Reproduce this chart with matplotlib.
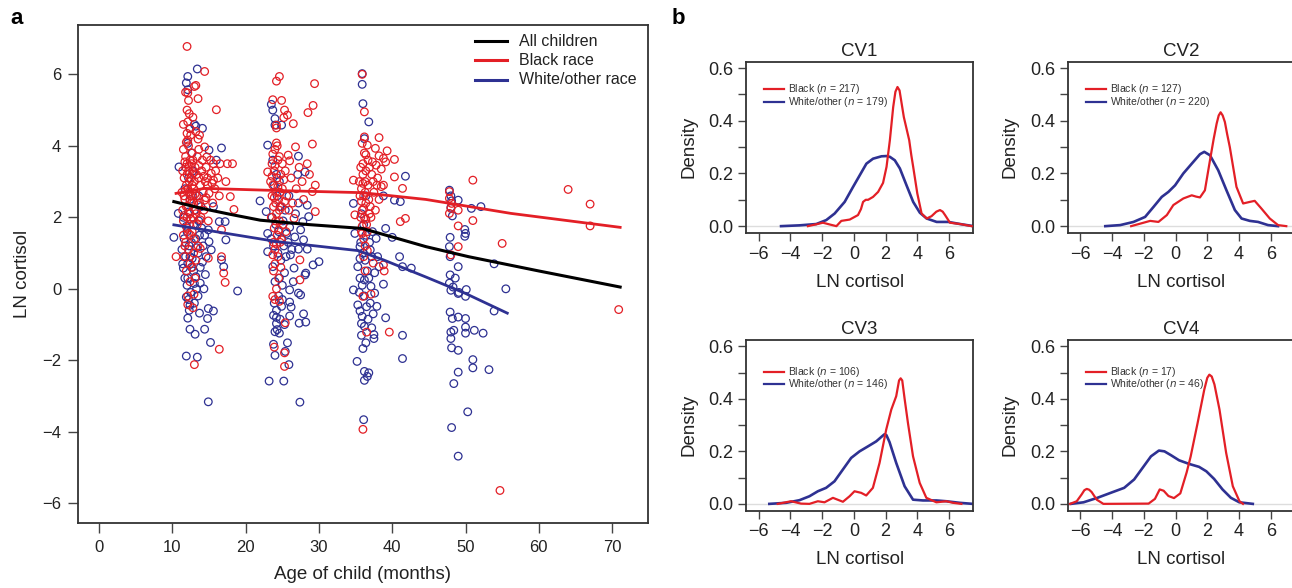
import matplotlib
matplotlib.use("Agg")
import matplotlib.pyplot as plt
from matplotlib.lines import Line2D
import numpy as np

plt.rcParams['font.family'] = ['Liberation Sans', 'DejaVu Sans']

RED = '#e31f26'
BLUE = '#2e3192'

# ---------------- Panel a data (age in months, LN cortisol) ----------------
black_w1 = [(12.0,6.78),(14.4,6.08),(11.8,5.5),(12.1,5.48),(13.0,5.66),(13.2,5.69),(12.2,5.27),(13.5,5.32),
            (16.0,5.01),(12.0,5.0),(12.3,4.9),(12.1,4.67),(12.4,4.48),(13.5,4.19),(12.1,4.16),(14.4,3.97),
            (14.7,3.69),(15.6,3.5),(17.5,3.5),(18.2,3.5),(15.3,3.23),(15.6,3.04),(15.0,2.67),(17.9,2.58),
            (18.4,2.22),(14.4,2.48),(13.2,2.1),(13.8,1.93),(16.7,1.65),(10.5,0.9),(13.8,1.13),(14.9,0.86),
            (16.7,0.9),(17.0,0.44),(17.2,0.18),(12.1,-0.44),(12.8,-0.53),(12.95,-0.15),(16.4,-1.69),(13.0,-2.12),
            (11.5,3.9),(11.8,3.7),(12.0,3.5),(12.2,3.3),(11.6,3.1),(11.9,2.9),(12.3,2.7),(11.7,2.5),(12.1,2.3),
            (12.4,2.1),(11.5,1.9),(12.0,1.7),(12.5,1.5),(11.8,1.3),(12.2,1.1),(11.6,0.9),(12.4,0.7),(11.9,0.5),
            (12.6,3.8),(12.8,3.6),(13.1,3.4),(12.7,3.2),(13.0,3.0),(12.9,2.8),(13.3,2.6),(12.6,2.4),(13.2,2.2),
            (12.8,2.0),(13.4,1.8),(12.7,1.6),(13.0,1.4),(13.5,1.2),(12.9,1.0),(13.2,0.8),(11.4,3.3),(11.3,2.7),
            (11.4,2.2),(11.5,1.5),(13.6,3.1),(13.8,2.9),(13.7,2.4),(14.0,3.3),(14.2,2.7),(14.5,3.0),(14.1,3.6),
            (14.8,2.9),(13.9,2.0),(14.3,2.2),(12.2,4.0),(12.5,4.3),(11.9,4.1),(12.3,3.0),(12.5,2.6),(12.0,2.0),
            (11.7,1.2),(12.7,0.6),(13.1,0.3),(12.4,0.2),(12.1,-0.2),(11.8,3.4),(12.6,3.5),(13.4,3.7),(12.3,1.8),
            (12.9,2.4),(15.2,3.6),(15.8,2.8),(14.6,3.4),(16.2,3.1),(15.5,2.4),(14.9,1.9),(13.6,3.9),(12.4,3.6),
            (11.6,2.6),(12.1,2.8),(12.7,2.9),(13.3,3.2),(12.0,3.2),(12.5,3.1),(11.9,2.3),(12.8,2.6),
            (11.7,3.55),(12.3,3.45),(12.9,3.25),(11.8,2.75),(12.4,2.45),(13.1,2.65),(11.6,2.05),(12.2,1.55),
            (13.6,3.45),(14.3,3.15),(14.6,2.55),(15.4,2.95),(16.5,3.5),(15.9,3.3),(13.2,4.4),(12.0,4.35),
            (11.5,4.6),(12.8,4.8),(13.7,4.3),(14.8,3.1),(16.4,2.6),(17.3,3.0),(13.5,2.35),(12.5,1.95)]

white_w1 = [(13.4,6.15),(12.1,5.94),(11.9,5.76),(12.1,5.57),(13.0,4.6),(13.2,4.55),(14.1,4.49),(12.4,4.48),
            (12.1,4.07),(16.7,3.94),(15.0,3.88),(16.0,3.6),(10.9,3.41),(10.8,2.11),(10.2,1.44),(15.6,2.3),
            (16.4,1.88),(17.2,1.88),(17.3,1.37),(15.0,1.32),(14.4,1.5),(15.3,1.09),(16.7,0.81),(17.0,0.62),
            (18.9,-0.06),(11.5,0.58),(12.1,0.72),(13.2,0.34),(13.8,0.16),(11.9,-0.23),(12.4,-0.46),(12.1,-0.82),
            (12.4,-1.13),(13.1,-1.27),(14.4,-1.13),(13.7,-0.68),(14.9,-0.55),(15.6,-0.62),(14.8,-0.83),(15.2,-1.5),
            (11.9,-1.88),(13.4,-1.91),(14.9,-3.16),(11.5,2.0),(12.0,1.6),(12.3,1.2),(11.8,0.9),(12.6,0.6),
            (12.9,1.8),(13.2,1.4),(13.5,1.0),(12.4,2.5),(13.0,2.2),(11.7,2.8),(12.2,3.1),(12.8,3.3),(13.6,2.6),
            (14.0,1.7),(14.2,1.2),(13.8,0.6),(12.1,0.3),(12.5,-0.1),(13.3,0.0),(14.5,0.4),(13.0,-0.4),(12.7,3.8),
            (12.4,0.9),(13.7,1.5),(11.6,1.4),(11.4,0.7),(12.2,-0.3),(12.0,0.1),(12.9,0.5),(13.5,-0.2),(14.6,0.9),
            (11.3,1.1),(12.6,1.3),(13.9,2.3),(14.3,0.0),(12.3,-0.6),(11.7,0.3),
            (13.3,1.15),(12.7,0.85),(14.1,0.75),(11.9,1.75),(13.6,1.9),(12.2,2.15),(14.9,1.65),(13.0,0.15)]

black_w2 = [(24.6,5.94),(24.2,5.81),(29.4,5.74),(23.7,5.29),(24.9,5.27),(25.3,5.0),(25.2,4.79),(26.5,4.62),
            (28.5,4.93),(29.2,5.13),(24.2,4.5),(24.2,4.58),(25.7,4.86),(24.2,4.08),(29.1,4.05),(26.8,3.97),
            (25.8,3.74),(23.7,3.77),(24.6,3.7),(23.0,3.27),(26.0,3.58),(28.4,3.5),(29.5,2.9),(29.1,2.72),
            (27.7,3.0),(29.5,2.16),(26.6,1.97),(25.3,2.44),(27.4,0.81),(27.4,0.25),(24.9,1.37),(24.0,0.7),
            (23.7,-0.21),(24.0,-0.30),(24.6,-0.35),(25.4,-0.95),(23.9,-1.63),(25.3,-1.79),(25.3,-2.17),
            (23.6,3.5),(23.9,3.3),(24.3,3.1),(23.7,2.9),(24.1,2.7),(24.5,2.5),(23.8,2.3),(24.2,2.1),(24.6,1.9),
            (23.9,1.7),(24.3,1.5),(24.7,1.3),(24.0,1.1),(24.4,0.9),(23.8,0.5),(24.8,3.2),(25.0,2.8),(24.9,2.3),
            (25.1,1.8),(24.4,3.6),(23.6,2.6),(23.5,2.0),(24.1,2.4),(24.7,2.7),(25.4,3.3),(25.6,2.6),(26.2,3.1),
            (26.9,2.8),(27.3,3.4),(25.9,2.2),(24.5,0.3),(24.2,0.0),(23.8,1.3),(24.3,4.0),(24.0,3.9),(25.0,3.5),
            (23.4,3.0),(24.6,2.2),(24.1,1.9),(25.5,1.6),(26.4,2.4),(27.9,2.5),(28.7,3.2),(24.8,0.6),
            (23.6,3.15),(24.4,2.85),(23.9,2.55),(24.5,1.65),(24.2,1.25),(23.7,0.95),(24.0,3.45),(25.2,3.05)]

white_w2 = [(23.5,5.16),(23.7,5.0),(24.0,4.76),(24.0,4.58),(24.9,4.58),(23.0,4.02),(27.2,3.71),(28.1,3.27),
            (27.1,3.2),(21.96,2.46),(22.8,2.16),(28.4,2.34),(27.2,2.4),(26.8,2.1),(27.8,1.88),(28.6,2.02),
            (26.0,1.72),(27.5,1.65),(27.9,1.37),(28.4,1.11),(27.2,1.11),(23.0,1.55),(23.0,1.04),(26.6,0.58),
            (29.2,0.67),(30.0,0.76),(28.1,0.39),(28.2,0.44),(23.7,0.62),(24.6,0.3),(26.0,-0.03),(27.2,-0.12),
            (27.5,-0.17),(23.8,-0.74),(24.2,-0.97),(24.3,-1.14),(24.6,-1.24),(24.2,-0.8),(24.9,-0.49),(26.0,-0.37),
            (26.2,-0.51),(26.0,-0.76),(27.3,-0.96),(27.9,-0.70),(28.2,-0.93),(23.8,-1.55),(24.0,-1.86),(25.7,-1.51),
            (25.4,-1.75),(25.9,-2.12),(23.2,-2.58),(25.2,-2.58),(27.4,-3.17),(23.9,2.9),(24.3,2.6),(24.7,2.3),
            (23.6,2.0),(24.1,1.8),(24.5,1.6),(24.9,1.4),(23.8,1.2),(24.4,1.0),(24.8,0.8),(25.2,1.2),(25.5,0.9),
            (25.8,1.3),(24.0,0.2),(24.5,-0.2),(23.9,-0.4),(25.0,0.1),(25.4,2.2),(25.9,2.6),(26.3,1.1),(24.2,3.2),
            (23.7,3.6),(24.6,3.0),(25.1,1.9),(23.5,1.4),(24.2,-0.6),(25.3,-1.0),(26.5,0.2),(25.0,-0.3),
            (25.6,1.55),(26.1,0.95),(25.3,0.45),(26.7,1.45),(24.0,-1.2),(24.7,-0.85)]

black_w3 = [(35.9,6.0),(36.2,4.95),(36.2,4.25),(35.9,4.07),(38.2,4.23),(36.6,4.02),(37.7,3.93),(39.3,3.86),
            (38.2,3.72),(38.8,3.65),(36.4,3.75),(36.7,3.6),(40.3,3.62),(37.8,3.46),(39.1,3.55),(40.3,3.13),
            (41.4,2.81),(38.5,2.86),(38.8,2.9),(34.7,3.04),(34.9,2.07),(35.9,1.55),(37.1,2.0),(38.2,2.5),
            (41.1,1.88),(41.8,1.97),(36.6,1.07),(37.4,0.72),(38.8,0.67),(38.9,0.5),(36.0,-0.21),(37.1,-0.15),
            (36.5,-1.21),(39.6,-1.21),(36.0,-3.93),(35.7,3.4),(36.0,3.2),(36.3,3.0),(35.8,2.8),(36.1,2.6),
            (36.4,2.4),(35.9,2.2),(36.2,2.0),(36.5,1.8),(35.8,1.6),(36.1,1.4),(36.3,1.2),(36.0,3.5),(36.4,3.3),
            (36.7,2.9),(36.8,2.5),(36.9,2.1),(37.2,3.2),(37.5,2.7),(37.0,2.3),(35.6,2.6),(35.5,3.0),(36.2,3.8),
            (36.9,3.4),(37.4,3.0),(38.0,3.1),(37.7,2.2),(36.6,1.6),(35.7,2.0),(36.1,0.9),(36.3,0.5),(37.9,2.9),
            (36.0,2.95),(36.3,2.7),(35.8,2.45),(36.1,2.25),(36.4,1.95),(35.9,1.75),(37.3,3.55),(38.5,3.35)]

white_w3 = [(35.9,6.02),(35.9,5.72),(36.0,5.18),(36.8,4.67),(36.2,4.2),(41.8,3.15),(40.3,2.48),(41.1,2.44),
            (38.8,2.6),(34.7,2.39),(34.9,1.55),(37.8,1.41),(39.1,1.69),(40.0,1.44),(35.6,1.18),(37.0,1.09),
            (38.0,0.9),(38.2,0.62),(41.0,0.9),(41.4,0.62),(42.6,0.58),(35.3,0.62),(35.6,0.3),(36.2,0.25),
            (37.1,0.07),(37.6,-0.12),(38.8,0.13),(34.7,-0.03),(35.3,-0.45),(35.6,-0.62),(35.9,-0.77),(35.8,-0.97),
            (36.2,-1.05),(37.0,-0.4),(37.4,-0.70),(37.2,-1.09),(37.5,-1.28),(37.5,-1.39),(37.9,-0.49),(39.1,-0.81),
            (41.4,-1.30),(41.4,-1.95),(35.2,-2.03),(36.2,-2.31),(36.8,-2.35),(36.6,-2.45),(36.2,-2.56),(36.4,-1.51),
            (36.0,-1.67),(36.1,-3.66),(35.8,2.1),(36.1,1.8),(36.4,1.5),(35.7,1.3),(36.0,1.0),(36.3,0.8),(36.6,0.5),
            (35.9,0.1),(36.2,-0.2),(36.5,-0.5),(36.8,0.3),(37.2,0.9),(36.9,1.3),(35.5,-0.1),(36.4,2.6),(35.8,-1.3),
            (37.6,0.45),(36.7,-0.85),(35.6,0.85),(37.3,1.6)]

black_w4 = [(51.0,3.04),(47.8,2.72),(47.8,2.53),(48.1,2.39),(48.0,2.25),(47.8,2.11),(49.0,2.2),(49.0,1.76),
            (51.0,1.91),(49.0,1.18),(48.0,0.95),(55.0,1.27),(64.0,2.78),(67.0,2.37),(67.0,1.76),(54.7,-5.64),
            (70.9,-0.58)]

white_w4 = [(47.8,2.76),(48.0,2.6),(48.1,2.46),(48.0,2.28),(48.2,2.04),(49.0,2.48),(50.8,2.25),(52.1,2.30),
            (49.9,1.66),(50.0,1.55),(49.9,1.47),(47.9,1.44),(47.8,1.18),(47.9,0.9),(49.0,0.62),(47.9,0.39),
            (48.6,0.30),(47.8,0.16),(48.3,0.05),(53.9,0.70),(55.5,0.0),(49.1,-0.1),(48.0,-0.04),(49.0,-0.13),
            (50.0,-0.21),(50.1,-0.02),(47.9,-0.65),(48.2,-0.83),(49.0,-0.79),(50.0,-0.83),(50.0,-1.07),(50.0,-1.24),
            (48.0,-1.21),(48.4,-1.16),(48.0,-1.39),(51.2,-1.16),(52.4,-1.24),(48.1,-1.65),(49.0,-1.72),(51.0,-1.98),
            (51.0,-2.21),(53.2,-2.26),(49.0,-2.33),(48.4,-2.65),(50.3,-3.44),(48.1,-3.88),(49.0,-4.68),(53.9,-0.62)]

# smoothed fits
fit_all_age = [10.2, 14.0, 18.0, 22.0, 28.4, 35.9, 40.0, 44.6, 50.4, 60.0, 71.1]
fit_all_val = [2.44, 2.25, 2.08, 1.92, 1.80, 1.69, 1.45, 1.18, 0.90, 0.50, 0.05]
fit_black_age = [10.5, 14.4, 24.3, 35.9, 44.6, 56.2, 71.1]
fit_black_val = [2.67, 2.81, 2.75, 2.69, 2.50, 2.11, 1.72]
fit_white_age = [10.2, 14.4, 24.3, 35.3, 38.8, 44.6, 49.9, 55.7]
fit_white_val = [1.79, 1.65, 1.32, 1.07, 0.81, 0.33, -0.12, -0.68]

# ---------------- Panel b data (density curves) ----------------
cv_titles = ['CV1', 'CV2', 'CV3', 'CV4']
n_black = [217, 127, 106, 17]
n_white = [179, 220, 146, 46]

cv1_black_x = [-2.9,-2.3,-1.95,-1.5,-1.1,-0.79,-0.26,0.26,0.45,0.58,0.75,0.9,1.21,1.53,1.84,2.06,2.27,2.48,2.62,2.75,2.88,3.0,3.15,3.32,3.49,3.62,3.74,4.0,4.27,4.59,4.9,5.2,5.43,5.6,5.75,6.06,6.7,7.43]
cv1_black_y = [0.0,0.008,0.013,0.006,0.0,0.02,0.025,0.042,0.065,0.092,0.1,0.10,0.111,0.13,0.164,0.225,0.326,0.452,0.51,0.528,0.515,0.47,0.414,0.37,0.326,0.27,0.225,0.124,0.048,0.029,0.038,0.055,0.061,0.055,0.042,0.013,0.008,0.0]
cv1_white_x = [-4.59,-3.43,-2.37,-1.74,-1.21,-0.58,-0.05,0.37,0.79,1.21,1.74,2.05,2.27,2.58,2.9,3.32,3.74,4.16,4.59,5.22,5.96,6.7,7.54]
cv1_white_y = [0.0,0.003,0.008,0.023,0.048,0.092,0.149,0.193,0.237,0.256,0.265,0.266,0.263,0.25,0.219,0.155,0.092,0.051,0.029,0.016,0.016,0.008,0.0]

cv2_black_x = [-2.8,-2.02,-1.6,-1.08,-0.55,-0.14,0.49,1.02,1.3,1.54,1.85,2.17,2.4,2.59,2.72,2.84,2.97,3.11,3.25,3.42,3.84,4.26,4.68,4.99,5.41,5.94,6.46,6.98]
cv2_black_y = [0.0,0.013,0.02,0.016,0.042,0.08,0.105,0.117,0.112,0.109,0.136,0.25,0.33,0.389,0.42,0.432,0.42,0.395,0.35,0.30,0.149,0.086,0.092,0.096,0.067,0.029,0.004,0.0]
cv2_white_x = [-4.43,-3.49,-2.65,-1.92,-1.39,-0.87,-0.45,-0.03,0.49,1.02,1.54,1.81,2.17,2.69,3.21,3.74,4.16,4.68,5.2,5.83,6.46]
cv2_white_y = [0.0,0.004,0.016,0.035,0.073,0.111,0.13,0.155,0.2,0.237,0.273,0.282,0.269,0.212,0.136,0.061,0.029,0.02,0.016,0.004,0.0]

cv3_black_x = [-4.8,-3.96,-3.33,-2.8,-2.27,-1.85,-1.32,-0.69,-0.27,0.04,0.46,0.78,1.2,1.62,2.04,2.36,2.67,2.85,2.95,3.05,3.2,3.41,3.73,4.15,4.57,5.2,5.83,6.25,6.78]
cv3_black_y = [0.0,0.01,0.001,0.0,0.01,0.006,0.023,0.008,0.029,0.048,0.042,0.032,0.061,0.156,0.283,0.359,0.41,0.47,0.478,0.47,0.40,0.308,0.181,0.08,0.023,0.006,0.01,0.004,0.0]
cv3_white_x = [-5.33,-4.27,-3.43,-2.8,-2.27,-1.75,-1.22,-0.69,-0.17,0.36,0.89,1.41,1.79,1.93,2.05,2.25,2.67,3.2,3.73,4.36,5.2,5.83,6.67,7.5]
cv3_white_y = [0.0,0.004,0.014,0.029,0.048,0.061,0.086,0.131,0.175,0.2,0.219,0.238,0.258,0.265,0.262,0.235,0.156,0.067,0.016,0.013,0.013,0.01,0.004,0.0]

cv4_black_x = [-6.65,-6.23,-5.92,-5.75,-5.6,-5.45,-5.29,-4.97,-4.55,-1.7,-1.3,-1.0,-0.75,-0.45,-0.1,0.3,0.7,0.95,1.39,1.81,2.0,2.13,2.28,2.45,2.6,2.77,3.19,3.61,4.03,4.25]
cv4_black_y = [0.0,0.01,0.036,0.052,0.057,0.054,0.045,0.016,0.0,0.001,0.019,0.055,0.05,0.03,0.022,0.04,0.12,0.18,0.308,0.435,0.48,0.492,0.485,0.455,0.41,0.359,0.194,0.067,0.01,0.0]
cv4_white_x = [-6.6,-5.8,-4.93,-4.09,-3.24,-2.61,-2.08,-1.55,-1.05,-0.7,-0.28,0.22,0.86,1.48,1.94,2.43,2.96,3.49,4.02,4.87]
cv4_white_y = [0.0,0.006,0.023,0.042,0.061,0.093,0.137,0.181,0.203,0.2,0.185,0.166,0.152,0.141,0.124,0.095,0.055,0.023,0.006,0.0]

cv_black = [(cv1_black_x, cv1_black_y), (cv2_black_x, cv2_black_y), (cv3_black_x, cv3_black_y), (cv4_black_x, cv4_black_y)]
cv_white = [(cv1_white_x, cv1_white_y), (cv2_white_x, cv2_white_y), (cv3_white_x, cv3_white_y), (cv4_white_x, cv4_white_y)]

# ---------------- Figure ----------------
W, H = 1292, 588
fig = plt.figure(figsize=(W / 100, H / 100), dpi=100)

def px_axes(left, top, right, bottom):
    return fig.add_axes([left / W, 1 - bottom / H, (right - left) / W, (bottom - top) / H])

def style_box(ax, lw=1.3):
    for s in ax.spines.values():
        s.set_linewidth(lw)
        s.set_color('#333333')

TXT = '#222222'

# Panel a
ax = px_axes(78, 25, 648, 523)
style_box(ax)
for data, col in [(white_w1 + white_w2 + white_w3 + white_w4, BLUE),
                  (black_w1 + black_w2 + black_w3 + black_w4, RED)]:
    arr = np.array(data)
    ax.scatter(arr[:, 0], arr[:, 1], s=30, facecolors='none', edgecolors=col, linewidths=0.9, zorder=2)
ax.plot(fit_black_age, fit_black_val, color=RED, lw=2.0, zorder=3)
ax.plot(fit_white_age, fit_white_val, color=BLUE, lw=2.0, zorder=3)
ax.plot(fit_all_age, fit_all_val, color='black', lw=2.2, zorder=3)
ax.set_xlim(-2.88, 74.9)
ax.set_ylim(-6.55, 7.38)
ax.set_xticks(range(0, 71, 10))
ax.set_yticks(range(-6, 7, 2))
ax.set_yticklabels(['\u22126', '\u22124', '\u22122', '0', '2', '4', '6'])
ax.tick_params(direction='out', length=7, width=1.0, color='#444444', labelsize=12, pad=5, labelcolor=TXT)
ax.set_xlabel('Age of child (months)', fontsize=13.5, color=TXT, labelpad=8)
ax.set_ylabel('LN cortisol', fontsize=13.5, color=TXT, labelpad=8)

leg_items = [('All children', 'black'), ('Black race', RED), ('White/other race', BLUE)]
for i, (lab, col) in enumerate(leg_items):
    y = 41 + i * 19.3
    fig.add_artist(Line2D([475 / W, 507 / W], [1 - y / H, 1 - y / H], color=col, lw=2.2))
    fig.text(519 / W, 1 - y / H, lab, fontsize=11.5, va='center', ha='left', color=TXT)

fig.text(17 / W, 1 - 18 / H, 'a', fontsize=16, fontweight='bold', va='center', ha='center')
fig.text(678 / W, 1 - 18 / H, 'b', fontsize=16, fontweight='bold', va='center', ha='center')

# Panel b
boxes = [(746, 61.7, 973.3, 233), (1067.7, 61.7, 1295, 233),
         (746, 340, 973.3, 510.7), (1067.7, 340, 1295, 510.7)]
for k, (l, t, r, b) in enumerate(boxes):
    axd = px_axes(l, t, r, b)
    style_box(axd)
    axd.axhline(0, color='#dddddd', lw=1.0, zorder=1)
    bx, by = cv_black[k]
    wx, wy = cv_white[k]
    axd.plot(wx, wy, color=BLUE, lw=1.9, zorder=2)
    axd.plot(bx, by, color=RED, lw=1.6, zorder=3)
    axd.set_xlim(-6.8, 7.53)
    axd.set_ylim(-0.026, 0.624)
    axd.set_xticks(range(-6, 7, 2))
    axd.set_xticklabels(['\u22126', '\u22124', '\u22122', '0', '2', '4', '6'])
    axd.set_yticks([0, 0.1, 0.2, 0.3, 0.4, 0.5, 0.6])
    axd.set_yticklabels(['0.0', '', '0.2', '', '0.4', '', '0.6'])
    axd.tick_params(direction='out', length=6, width=1.0, color='#444444', labelsize=13, pad=3, labelcolor=TXT)
    axd.set_xlabel('LN cortisol', fontsize=13.5, color=TXT, labelpad=8)
    axd.set_ylabel('Density', fontsize=13.5, color=TXT, labelpad=8)
    axd.set_title(cv_titles[k], fontsize=13.5, color=TXT, pad=4)
    # legend
    ly = [89.3, 101.5] if k < 2 else [371.7, 384.3]
    lx0 = 764 if k % 2 == 0 else 1086
    for j, (lab, col) in enumerate([('Black ($n$ = %d)' % n_black[k], RED),
                                     ('White/other ($n$ = %d)' % n_white[k], BLUE)]):
        yy = 1 - ly[j] / H
        fig.add_artist(Line2D([lx0 / W, (lx0 + 20) / W], [yy, yy], color=col, lw=1.6))
        fig.text((lx0 + 24) / W, yy, lab, fontsize=7.5, va='center', ha='left', color='#333333')

fig.savefig('out.png', dpi=100)
